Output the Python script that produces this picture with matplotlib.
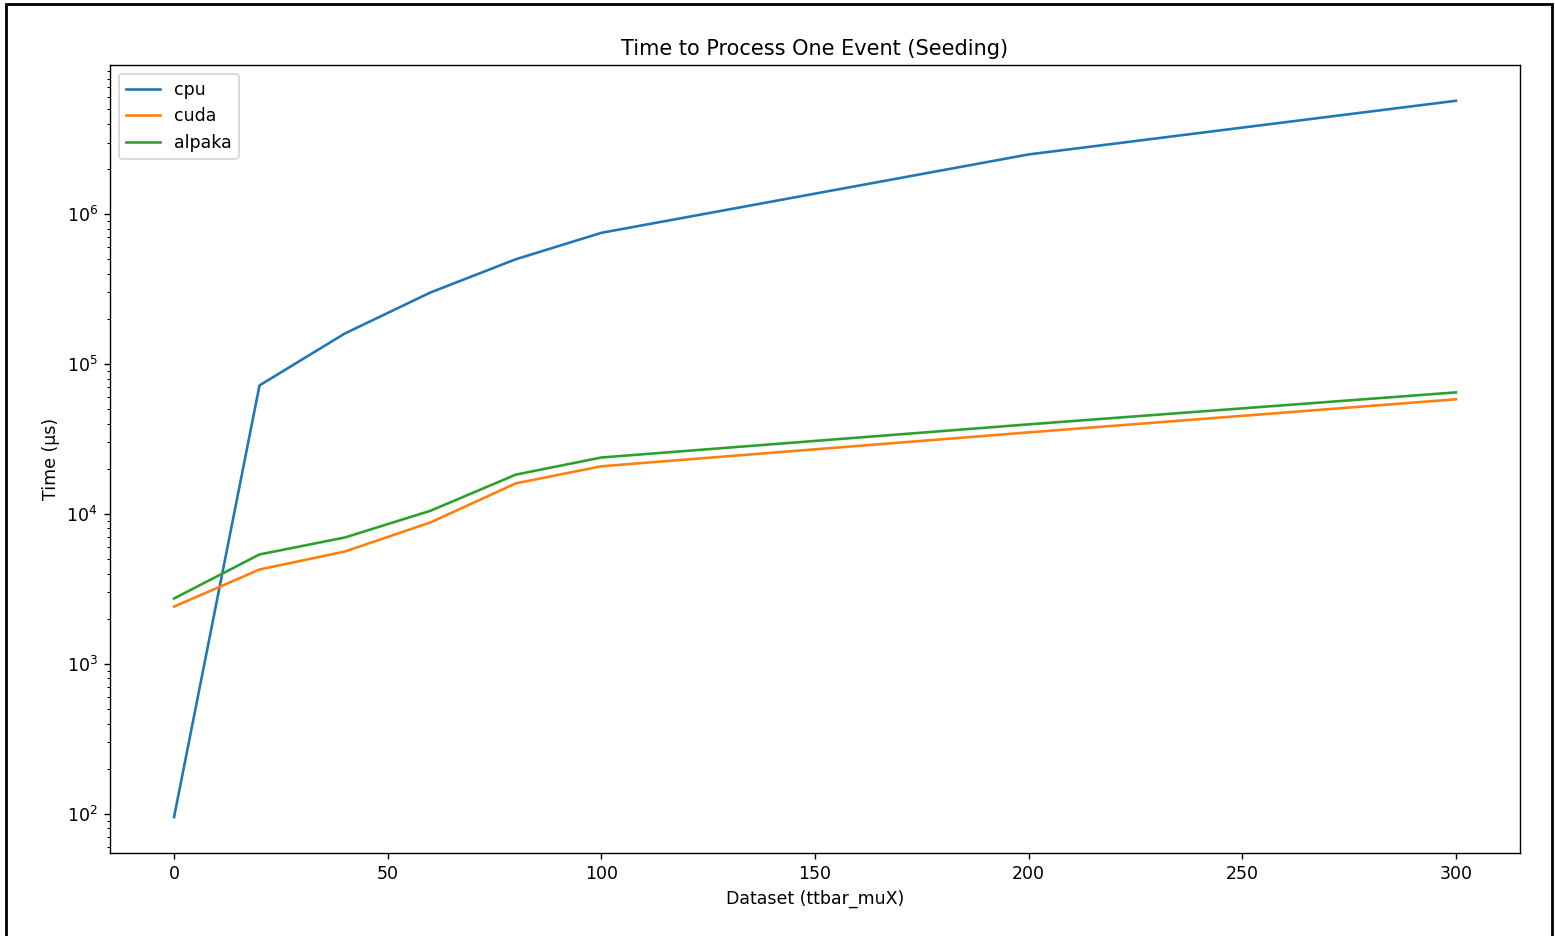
import matplotlib.pyplot as plt
from matplotlib.patches import Rectangle

# dataset index (ttbar_muX)
datasets = [0, 20, 40, 60, 80, 100, 200, 300]

# time per event in microseconds
cpu_time = [95, 72000, 160000, 300000, 500000, 750000, 2500000, 5700000]
cuda_time = [2410, 4260, 5620, 8780, 16000, 20800, 35000, 58200]
alpaka_time = [2730, 5370, 6970, 10500, 18300, 23800, 39600, 64700]

fig = plt.figure(figsize=(1555 / 125, 936 / 125), dpi=125)
ax = fig.add_axes([0.0707, 0.0887, 0.9068, 0.8419])

ax.plot(datasets, cpu_time, label="cpu")
ax.plot(datasets, cuda_time, label="cuda")
ax.plot(datasets, alpaka_time, label="alpaka")

ax.set_yscale("log")
ax.set_title("Time to Process One Event (Seeding)")
ax.set_xlabel("Dataset (ttbar_muX)")
ax.set_ylabel("Time (µs)")
ax.legend(loc="upper left")

# screenshot frame
fig.patches.append(
    Rectangle(
        (6 / 1555, -0.01),
        1546 / 1555,
        1 - 4 / 936 + 0.01,
        transform=fig.transFigure,
        fill=False,
        edgecolor="black",
        linewidth=1.6,
    )
)

fig.savefig("out.png", dpi=125)
